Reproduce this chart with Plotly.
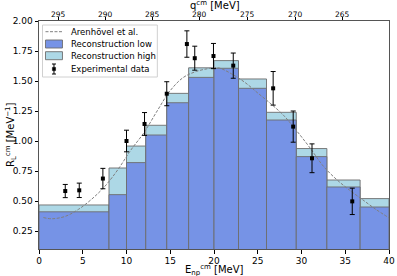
import plotly.graph_objects as go

# Bin edges (E_np^cm in MeV)
bin_edges = [0, 8, 10, 12.2, 14.6, 17.1, 20, 22.8, 26, 29.4, 32.9, 36.7, 40]
recon_low = [0.41, 0.553, 0.82, 1.05, 1.319, 1.53, 1.606, 1.439, 1.175, 0.87, 0.617, 0.45]
recon_high = [0.467, 0.775, 0.958, 1.131, 1.397, 1.61, 1.67, 1.517, 1.239, 0.937, 0.675, 0.52]

# Experimental data
exp_x = [3.0, 4.6, 7.3, 10.0, 12.06, 14.6, 16.9, 17.8, 19.94, 22.2, 26.76, 29.05, 31.2, 35.8]
exp_y = [0.583, 0.589, 0.687, 1.0, 1.142, 1.394, 1.808, 1.69, 1.708, 1.628, 1.439, 1.12, 0.856, 0.497]
exp_err = [0.055, 0.06, 0.085, 0.09, 0.095, 0.1, 0.11, 0.1, 0.105, 0.105, 0.14, 0.13, 0.12, 0.11]

# Theory curve (Arenhövel et al.)
theo_x = [0.5, 1.5, 3.0, 4.5, 6.0, 7.5, 9.0, 10.5, 12.0, 13.5, 15.0, 16.5, 18.0, 19.5, 20.5,
          22.0, 23.5, 25.0, 26.5, 28.0, 29.5, 31.0, 32.5, 34.0, 35.5, 37.0, 38.5, 40.0]
theo_y = [0.362, 0.352, 0.372, 0.43, 0.514, 0.62, 0.76, 0.925, 1.07, 1.25, 1.42, 1.53, 1.58, 1.605, 1.61,
          1.56, 1.49, 1.40, 1.31, 1.21, 1.08, 0.94, 0.79, 0.68, 0.59, 0.51, 0.43, 0.36]

# Top axis: q^cm ticks
q_tick_labels = [295, 290, 285, 280, 275, 270, 265]
q_tick_E = [2.23, 7.57, 12.97, 18.38, 23.83, 29.27, 34.69]

legend_labels = ["Arenhövel et al.", "Reconstruction low", "Reconstruction high", "Experimental data"]

centers = [(a + b) / 2 for a, b in zip(bin_edges[:-1], bin_edges[1:])]
widths = [b - a for a, b in zip(bin_edges[:-1], bin_edges[1:])]

FONT = "DejaVu Sans"
W_FIG, H_FIG = 397, 276
ML, MR, MT, MB = 38.5, 8, 21, 27
PW, PH = W_FIG - ML - MR, H_FIG - MT - MB

LOW_COL = "rgb(118,147,230)"
HIGH_COL = "#ADD8E6"
EDGE_COL = "rgba(110,110,110,0.9)"
edge = dict(color=EDGE_COL, width=1)


def px(xp):
    return (xp - ML) / PW


def py(yp):
    return (MT + PH - yp) / PH


fig = go.Figure()
fig.add_trace(go.Bar(x=centers, y=recon_high, width=widths, name=legend_labels[2],
                     marker=dict(color=HIGH_COL, line=edge), showlegend=False))
fig.add_trace(go.Bar(x=centers, y=recon_low, width=widths, name=legend_labels[1],
                     marker=dict(color=LOW_COL, line=edge), showlegend=False))
fig.add_trace(go.Scatter(x=theo_x, y=theo_y, mode="lines", name=legend_labels[0],
                         line=dict(color="gray", width=1, dash="3px,1.5px", shape="spline"),
                         showlegend=False))
fig.add_trace(go.Scatter(x=exp_x, y=exp_y, mode="markers", name=legend_labels[3],
                         marker=dict(color="black", size=4, symbol="square"),
                         error_y=dict(type="data", array=exp_err, color="black", thickness=1, width=2.5),
                         showlegend=False))
# invisible trace to activate the top axis
fig.add_trace(go.Scatter(x=[0, 40], y=[1, 1], xaxis="x2", mode="lines",
                         line=dict(width=0, color="rgba(0,0,0,0)"), showlegend=False, hoverinfo="skip"))

# Manual legend (matplotlib-like compact layout)
shapes = []
annotations = []
shapes.append(dict(type="rect", xref="paper", yref="paper", x0=px(42), x1=px(157), y0=py(77), y1=py(25),
                   line=dict(color="#d0d0d0", width=1), fillcolor="rgba(255,255,255,0.85)", layer="above"))
row_y = [31.7, 44, 55.7, 69]
sx0, sx1 = 45, 62
shapes.append(dict(type="line", xref="paper", yref="paper", x0=px(sx0), x1=px(sx1), y0=py(row_y[0]),
                   y1=py(row_y[0]), line=dict(color="gray", width=1, dash="3px,1.5px"), layer="above"))
for r, col in ((1, LOW_COL), (2, HIGH_COL)):
    shapes.append(dict(type="rect", xref="paper", yref="paper", x0=px(sx0), x1=px(sx1),
                       y0=py(row_y[r] + 4), y1=py(row_y[r] - 4),
                       line=dict(color=EDGE_COL, width=1), fillcolor=col, layer="above"))
cx = (sx0 + sx1) / 2
shapes.append(dict(type="line", xref="paper", yref="paper", x0=px(cx), x1=px(cx), y0=py(row_y[3] + 5),
                   y1=py(row_y[3] - 5), line=dict(color="black", width=1), layer="above"))
for d in (-5, 5):
    shapes.append(dict(type="line", xref="paper", yref="paper", x0=px(cx - 2), x1=px(cx + 2),
                       y0=py(row_y[3] + d), y1=py(row_y[3] + d), line=dict(color="black", width=1),
                       layer="above"))
shapes.append(dict(type="rect", xref="paper", yref="paper", x0=px(cx - 1.6), x1=px(cx + 1.6),
                   y0=py(row_y[3] + 1.6), y1=py(row_y[3] - 1.6), line=dict(color="black", width=0.5),
                   fillcolor="black", layer="above"))
for lbl, ry in zip(legend_labels, row_y):
    annotations.append(dict(text=lbl, xref="paper", yref="paper", x=px(69), y=py(ry), xanchor="left",
                            yanchor="middle", showarrow=False, font=dict(size=8.5, family=FONT)))

# Top-axis tick labels placed like matplotlib (slightly further from the frame)
for qv, ev in zip(q_tick_labels, q_tick_E):
    annotations.append(dict(text=str(qv), xref="x2", yref="paper", x=ev, y=1, yshift=6.5,
                            xanchor="center", yanchor="middle", showarrow=False,
                            font=dict(size=7.5, family=FONT)))

annotations += [
    dict(text="E<sub>np</sub><sup>cm</sup> [MeV]", xref="paper", yref="paper",
         x=0.5, y=0, yshift=-12, xanchor="center", yanchor="top", showarrow=False,
         font=dict(size=10)),
    dict(text="R<sub>L</sub><sup>cm</sup> [MeV<sup>−1</sup>]", xref="paper", yref="paper",
         x=0, xshift=-37, y=0.5, textangle=-90, xanchor="left", yanchor="middle",
         showarrow=False, font=dict(size=10)),
    dict(text="q<sup>cm</sup> [MeV]", xref="paper", yref="paper",
         x=0.5, xshift=1, y=1, yshift=16.5, xanchor="center", yanchor="middle", showarrow=False,
         font=dict(size=10)),
]

fig.update_layout(
    width=W_FIG, height=H_FIG,
    margin=dict(l=ML, r=MR, t=MT, b=MB, autoexpand=False),
    plot_bgcolor="white", paper_bgcolor="white",
    barmode="overlay", bargap=0,
    font=dict(family=FONT, size=9, color="black"),
    showlegend=False,
    hovermode=False,
    xaxis=dict(range=[0, 40], tickvals=[0, 5, 10, 15, 20, 25, 30, 35, 40],
               ticks="outside", ticklen=3.5, tickcolor="black", showline=True, linecolor="#555",
               linewidth=1, mirror=True, showgrid=False, zeroline=False, automargin=False,
               tickfont=dict(size=9)),
    xaxis2=dict(range=[0, 40], overlaying="x", side="top", tickvals=q_tick_E,
                showticklabels=False, ticks="outside", ticklen=3,
                tickcolor="black", showgrid=False, zeroline=False, showline=False, automargin=False),
    yaxis=dict(range=[0.1, 2.0], tickvals=[0.25, 0.5, 0.75, 1.0, 1.25, 1.5, 1.75, 2.0],
               ticktext=["0.25", "0.50", "0.75", "1.00", "1.25", "1.50", "1.75", "2.00"],
               ticks="outside", ticklen=3.5, tickcolor="black", showline=True, linecolor="#555",
               linewidth=1, mirror=True, showgrid=False, zeroline=False, automargin=False,
               tickfont=dict(size=9)),
    shapes=shapes,
    annotations=annotations,
)

fig.write_html("out.html", config={"displayModeBar": False, "staticPlot": True},
               post_script="document.body.style.margin='0';document.body.style.padding='0';"
                           "document.body.style.overflow='hidden';")
